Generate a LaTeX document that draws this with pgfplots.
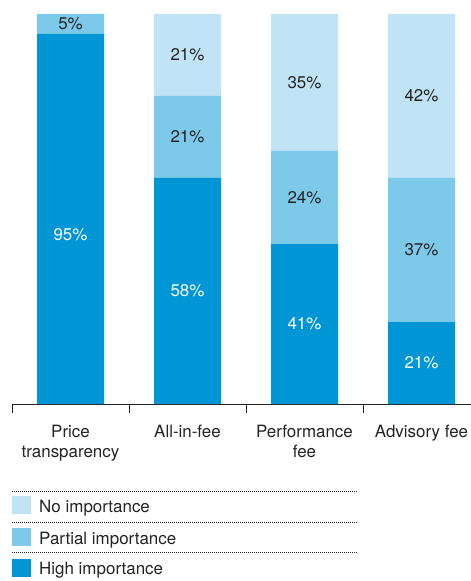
\documentclass[border=0pt]{standalone}
\usepackage{pgfplots}
\usepackage{pgfplotstable}
\pgfplotsset{compat=1.18}
\usepackage{fontspec}
\setmainfont{TeX Gyre Heros}
\definecolor{cHigh}{RGB}{0,150,214}
\definecolor{cPart}{RGB}{125,201,233}
\definecolor{cNo}{RGB}{192,228,245}
\definecolor{txt}{RGB}{35,35,35}
\pgfplotstableread{
x y lab off
0 95 95\% -16
1 58 58\% 0
2 41 41\% 0
3 21 21\% 0
}\high
\pgfplotstableread{
x y lab off
0 5 5\% 0
1 21 21\% 0
2 24 24\% 0
3 37 37\% 0
}\partial
\pgfplotstableread{
x y lab off
0 0 {} 0
1 21 21\% 0
2 35 35\% 0
3 42 42\% 0
}\noimp
\begin{document}
\begin{tikzpicture}[x=1bp,y=1bp]
\path[use as bounding box] (0,0) rectangle (471,-581);
\begin{axis}[
  at={(12bp,-404bp)}, anchor=south west,
  scale only axis, width=459bp, height=390bp,
  xmin=-0.5, xmax=3.4231, ymin=0, ymax=100,
  ybar stacked, bar width=67bp,
  axis x line*=bottom, hide y axis,
  axis line style={line width=0.8bp, txt},
  xtick={0,1,2,3},
  xticklabels={{Price\\transparency},{All-in-fee},{Performance\\fee},{Advisory fee}},
  major tick length=0pt,
  minor xtick={-0.5,0.5,1.5,2.5},
  minor tick length=9bp,
  tick align=outside, tick pos=lower,
  minor tick style={line width=0.8bp, txt},
  xticklabel style={align=center, font=\fontsize{17}{20}\selectfont, text=txt, anchor=north, yshift=-18bp},
  point meta=explicit symbolic,
  nodes near coords,
  visualization depends on={\thisrow{off} \as \off},
  every node near coord/.append style={anchor=center, font=\fontsize{17}{20}\selectfont,
     yshift=\off bp},
  clip=false,
]
\addplot[fill=cHigh, draw=none, nodes near coords style={text=white}]
  table[x=x, y=y, meta=lab] {\high};
\addplot[fill=cPart, draw=none, nodes near coords style={text=txt}]
  table[x=x, y=y, meta=lab] {\partial};
\addplot[fill=cNo, draw=none, nodes near coords style={text=txt}]
  table[x=x, y=y, meta=lab] {\noimp};
\end{axis}
% legend
\foreach \yy in {491,522,552} {
  \draw[line width=0.9bp, txt, dash pattern=on 0.8bp off 1.2bp] (12,-\yy) -- (358,-\yy);
}
\fill[cNo] (12,-496) rectangle (31,-514);
\fill[cPart] (12,-528) rectangle (31,-546);
\fill[cHigh] (12,-559) rectangle (31,-577);
\begin{scope}[every node/.style={anchor=base west, inner sep=0pt, font=\fontsize{17}{20}\selectfont, text=txt}]
\node at (39,-512) {No importance};
\node at (39,-544) {Partial importance};
\node at (39,-574) {High importance};
\end{scope}
\end{tikzpicture}
\end{document}
